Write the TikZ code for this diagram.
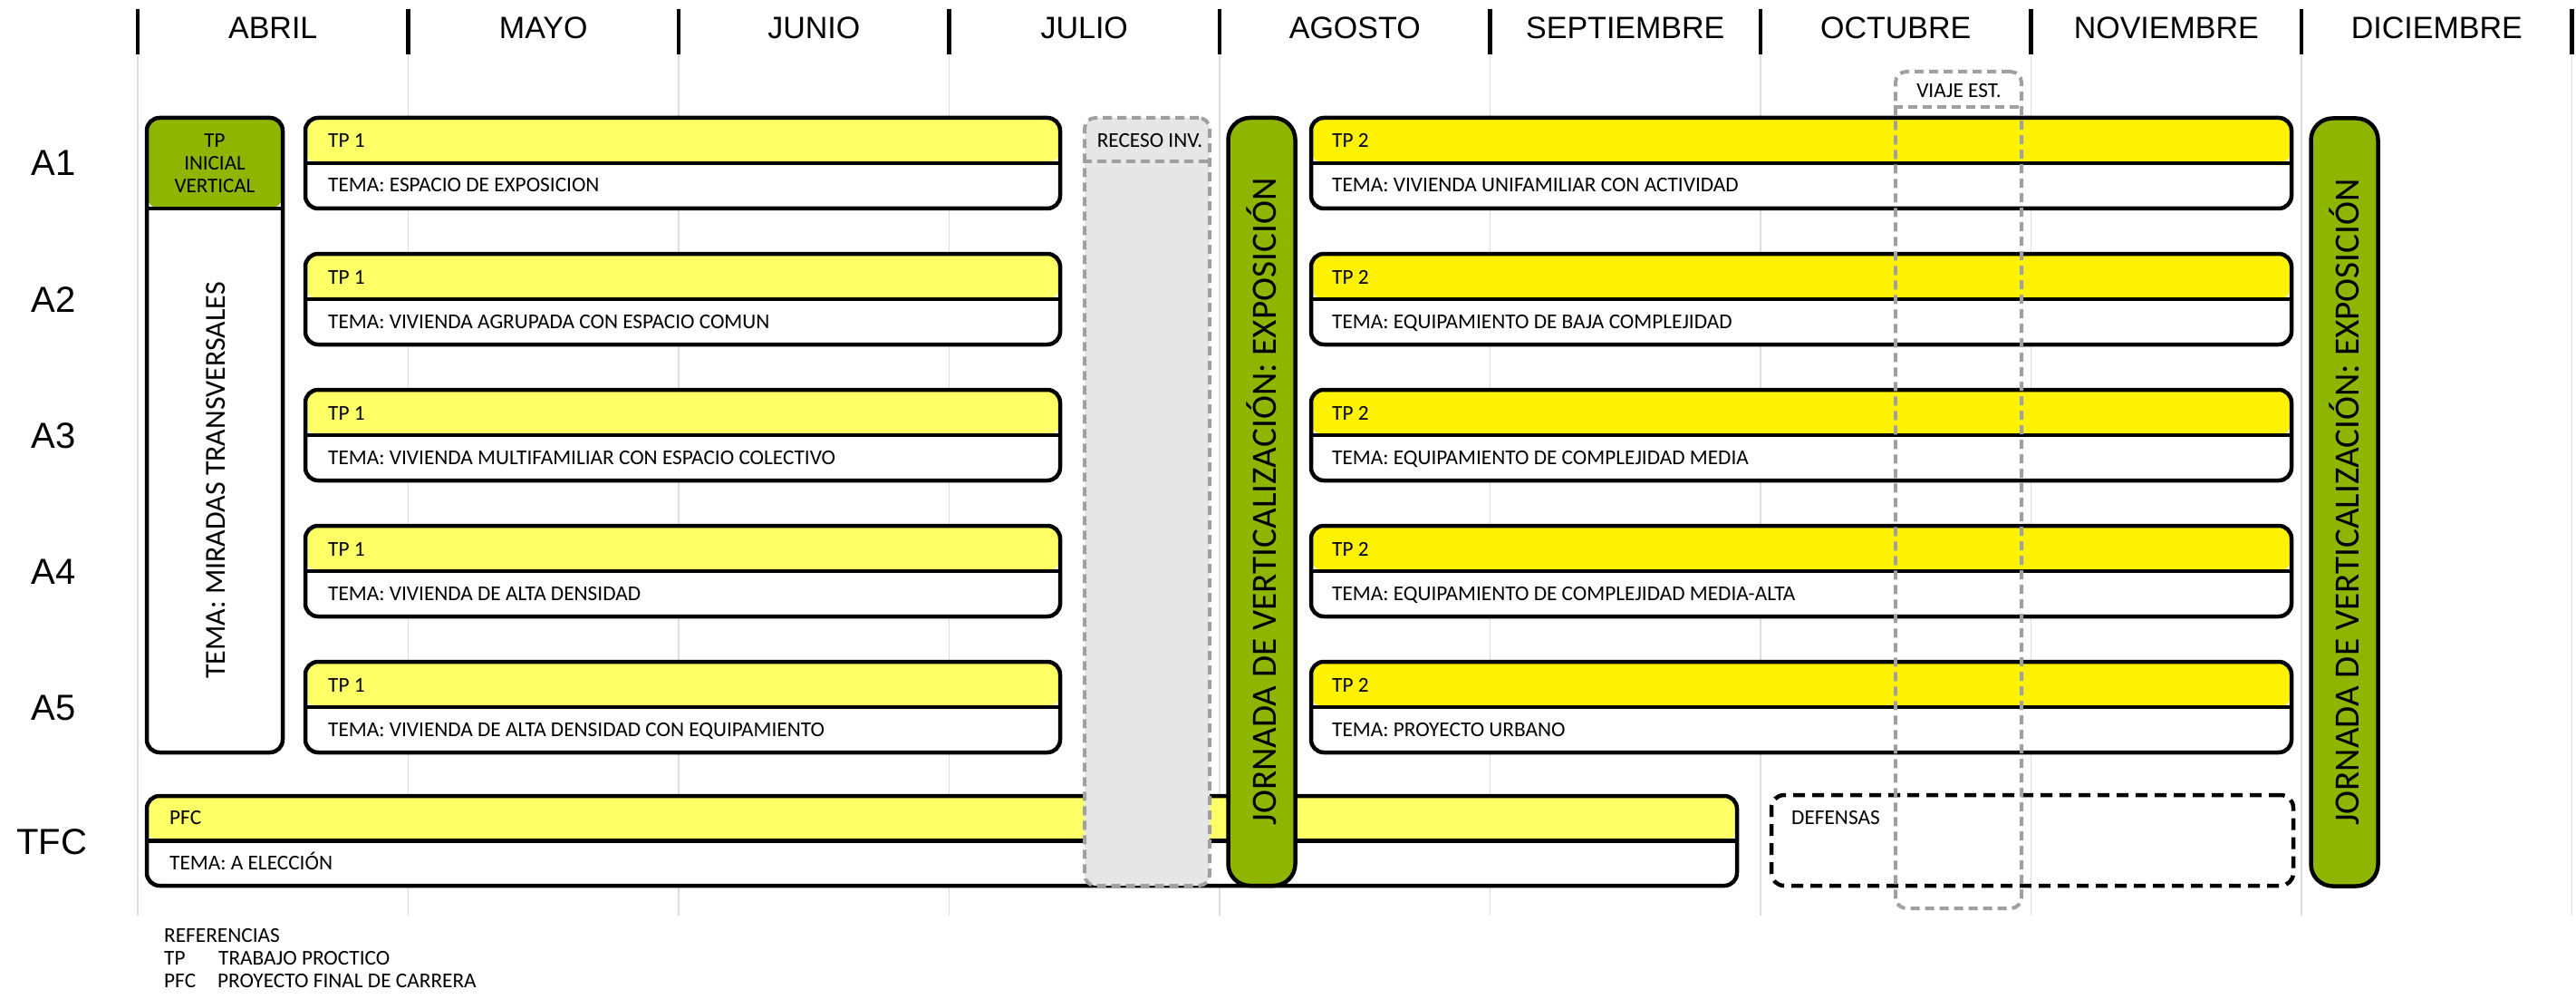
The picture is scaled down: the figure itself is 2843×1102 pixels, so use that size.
\documentclass[tikz,border=0pt]{standalone}
\usepackage{fontspec}
\setmainfont{Carlito}
\newfontfamily\arialfont{Liberation Sans}
\usetikzlibrary{calc}
\definecolor{tpgreen}{RGB}{142,182,0}
\definecolor{paleyellow}{RGB}{255,255,102}
\definecolor{recesogray}{RGB}{230,230,230}
\definecolor{dashgray}{RGB}{160,160,160}
\definecolor{gridgray}{RGB}{222,222,222}

\begin{document}
\begin{tikzpicture}[x=1pt,y=-1pt]
% Specify the look of each kind of element
\tikzstyle{month}=[font=\arialfont\fontsize{34}{40}\selectfont,anchor=base,inner sep=0]
\tikzstyle{row label}=[font=\arialfont\fontsize{40}{48}\selectfont,anchor=base,inner sep=0]
\tikzstyle{box text}=[font=\fontsize{23.3}{25}\selectfont,anchor=base west,inner sep=0]
\tikzstyle{grid line}=[draw=gridgray,line width=1.5pt]
\tikzset{
tp box/.style={draw,line width=4.5pt,rounded corners=14pt,fill=white,inner sep=0,minimum height=100pt,
 path picture={\fill[#1] (path picture bounding box.north west) rectangle (path picture bounding box.east);
 \draw[line width=4.5pt] (path picture bounding box.west) -- (path picture bounding box.east);}},
jornada/.style={draw,line width=4.5pt,rounded corners=24pt,fill=tpgreen,rotate=90,inner sep=0,
 minimum width=847pt,minimum height=74pt,font=\fontsize{39.2}{40}\selectfont},
grey dash/.style={draw=dashgray,line width=4pt,dash pattern=on 10pt off 6pt,rounded corners=12pt,inner sep=0}
}
\useasboundingbox (0,0) rectangle (2843,1102);

\foreach \i in {0,...,9}{
\draw[grid line] (152+298.5*\i,60) -- (152+298.5*\i,1010);
\draw[line width=4.5pt] (152+298.5*\i,10) -- (152+298.5*\i,60);
}
\foreach \m [count=\i from 0] in {ABRIL,MAYO,JUNIO,JULIO,AGOSTO,SEPTIEMBRE,OCTUBRE,NOVIEMBRE,DICIEMBRE}
\node[month] (m\i) at (301.25+298.5*\i,43) {\m};

\foreach \r [count=\k from 0] in {A1,A2,A3,A4,A5}
\node[row label] (r\r) at (59,194+150*\k) {\r};
\node[row label] (rTFC) at (57,942) {TFC};

% Initial vertical workshop
\node[draw,line width=4.5pt,rounded corners=14pt,fill=white,inner sep=0,minimum width=150pt,minimum height=700pt,
 path picture={\fill[tpgreen] (path picture bounding box.north west) rectangle ($(path picture bounding box.north east)+(0pt,-100pt)$);
 \draw[line width=4.5pt] ($(path picture bounding box.north west)+(0pt,-100pt)$) -- ($(path picture bounding box.north east)+(0pt,-100pt)$);}]
 (inicial) at (237,480) {};
\node[align=center,font=\fontsize{23}{25}\selectfont] (inicialt) at (237,180) {TP\\INICIAL\\VERTICAL};
\node[rotate=90,font=\fontsize{32}{36}\selectfont] (miradas) at (238,530) {TEMA: MIRADAS TRANSVERSALES};

\foreach \k/\ta/\tb in {0/{TEMA: ESPACIO DE EXPOSICION}/{TEMA: VIVIENDA UNIFAMILIAR CON ACTIVIDAD},
 1/{TEMA: VIVIENDA AGRUPADA CON ESPACIO COMUN}/{TEMA: EQUIPAMIENTO DE BAJA COMPLEJIDAD},
 2/{TEMA: VIVIENDA MULTIFAMILIAR CON ESPACIO COLECTIVO}/{TEMA: EQUIPAMIENTO DE COMPLEJIDAD MEDIA},
 3/{TEMA: VIVIENDA DE ALTA DENSIDAD}/{TEMA: EQUIPAMIENTO DE COMPLEJIDAD MEDIA-ALTA},
 4/{TEMA: VIVIENDA DE ALTA DENSIDAD CON EQUIPAMIENTO}/{TEMA: PROYECTO URBANO}}{
\node[tp box=paleyellow,minimum width=833pt] (tpa\k) at (753.5,180+150*\k) {};
\node[box text] (tpat\k) at (362,163+150*\k) {TP 1};
\node[box text] (tpam\k) at (362,212+150*\k) {\ta};
\node[tp box=yellow,minimum width=1082pt] (tpb\k) at (1988,180+150*\k) {};
\node[box text] (tpbt\k) at (1470,163+150*\k) {TP 2};
\node[box text] (tpbm\k) at (1470,212+150*\k) {\tb};
}

\node[tp box=paleyellow,minimum width=1755pt,minimum height=99pt] (pfc) at (1039.5,927.5) {};
\node[box text] (pfct) at (187,909) {PFC};
\node[box text] (pfcm) at (187,959) {TEMA: A ELECCIÓN};

% Winter break
\node[grey dash,fill=recesogray,minimum width=138pt,minimum height=847pt] (receso) at (1266,553.5) {};
\draw[grey dash] ($(receso.north west)+(0pt,-50pt)$) -- ($(receso.north east)+(0pt,-50pt)$);
\node[box text,anchor=base] (recesot) at (1269,163) {RECESO INV.};

\node[jornada] (jor1) at (1392.5,553.5) {JORNADA DE VERTICALIZACIÓN: EXPOSICIÓN};
\node[jornada] (jor2) at (2587.5,554) {JORNADA DE VERTICALIZACIÓN: EXPOSICIÓN};

\node[draw,line width=4.5pt,dash pattern=on 13pt off 8pt,rounded corners=14pt,inner sep=0,minimum width=576pt,minimum height=100pt]
 (defensas) at (2243,927) {};
\node[box text] (defensast) at (1977,909) {DEFENSAS};

% Study trip
\node[grey dash,minimum width=139pt,minimum height=923pt] (viaje) at (2161.5,540.5) {};
\draw[grey dash] ($(viaje.north west)+(0pt,-41pt)$) -- ($(viaje.north east)+(0pt,-41pt)$);
\node[box text,anchor=base] (viajet) at (2162,108) {VIAJE EST.};

\node[box text] (ref) at (181,1039) {REFERENCIAS};
\node[box text] (reftp) at (181,1064) {TP};
\node[box text] (reftpd) at (241,1064) {TRABAJO PROCTICO};
\node[box text] (refpfc) at (181,1089) {PFC};
\node[box text] (refpfcd) at (240,1089) {PROYECTO FINAL DE CARRERA};
\end{tikzpicture}
\end{document}
